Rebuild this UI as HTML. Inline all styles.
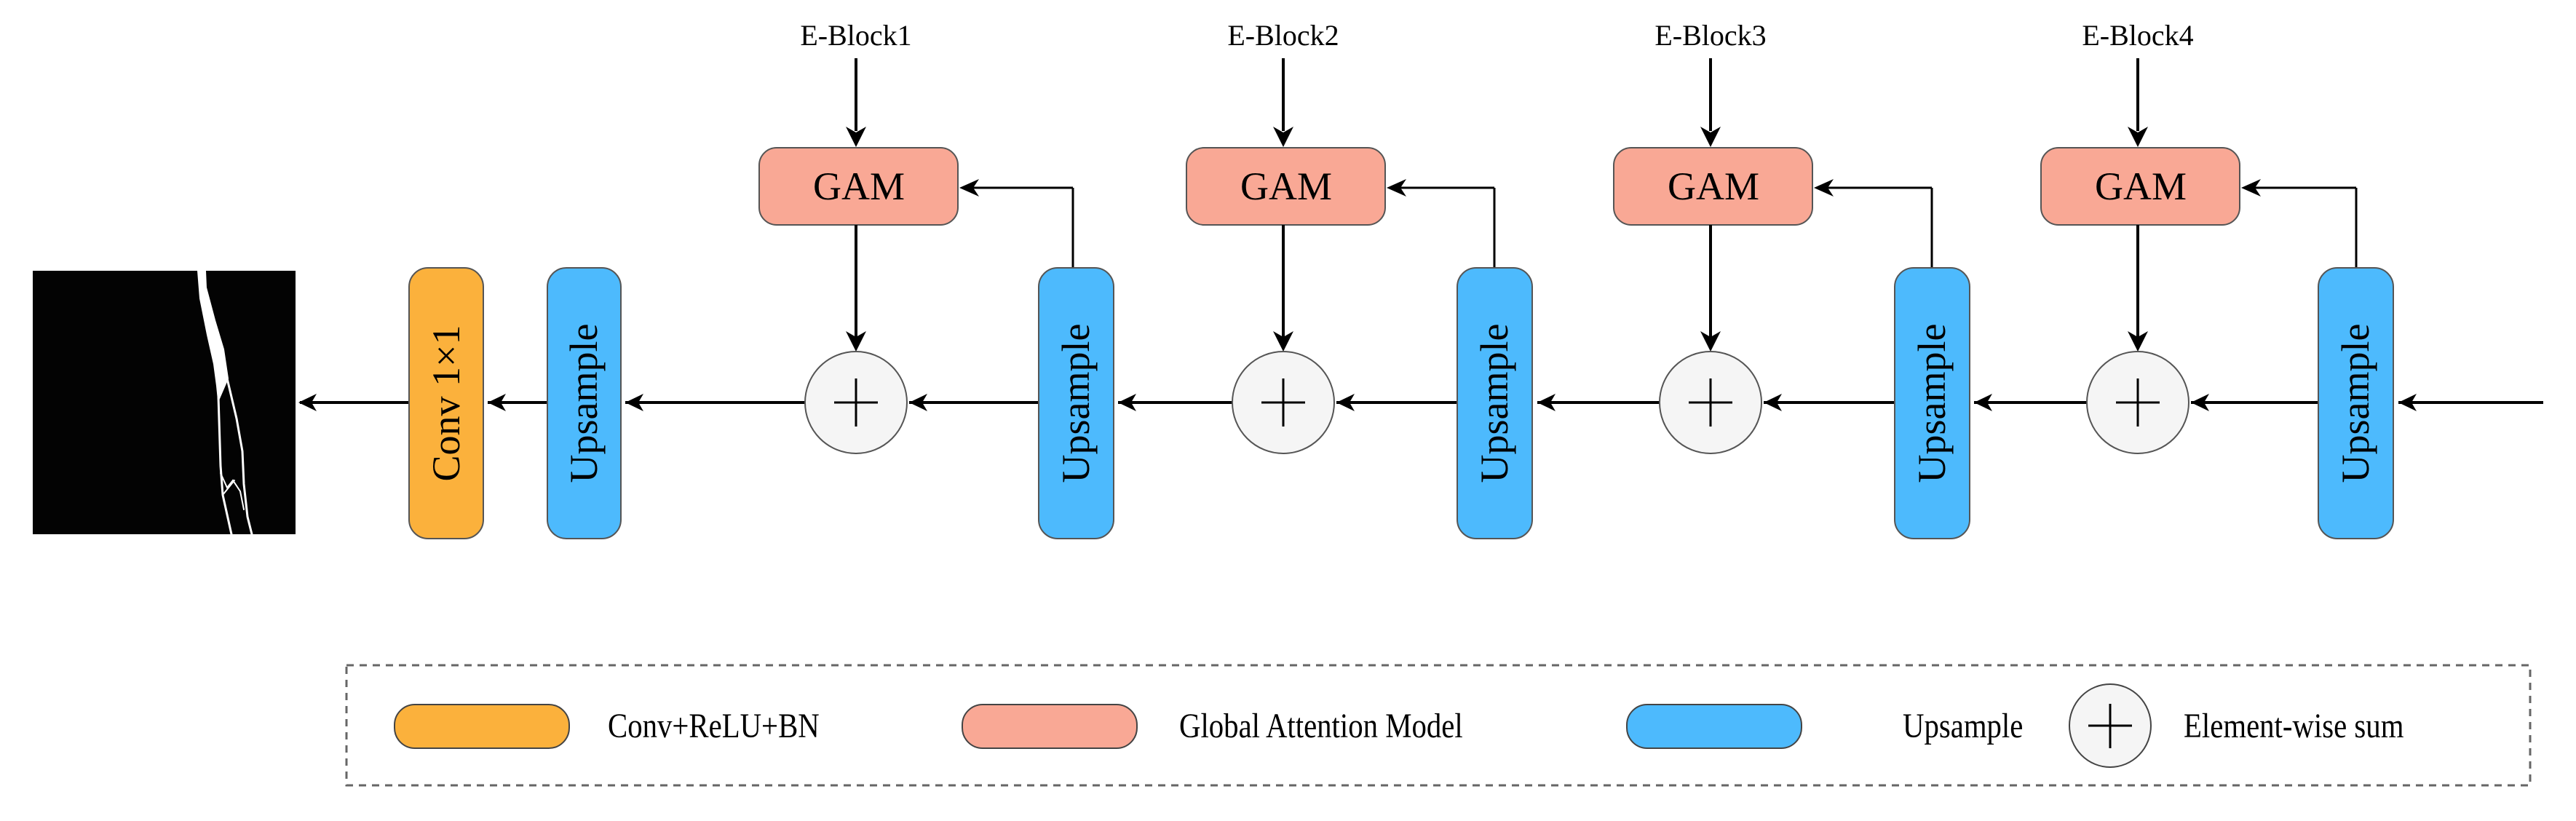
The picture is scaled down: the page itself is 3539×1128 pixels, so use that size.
<!DOCTYPE html>
<html><head><meta charset="utf-8"><style>
html,body{margin:0;padding:0;background:#fff;width:3539px;height:1128px;overflow:hidden}
text{font-family:"Liberation Serif","Times New Roman",serif;fill:#000}
</style></head><body>
<svg width="3539" height="1128" viewBox="0 0 3539 1128" xmlns="http://www.w3.org/2000/svg" font-family="Liberation Serif, serif">
<!-- crack image -->
<rect x="45" y="372" width="361" height="362" fill="#030303"/>
<g fill="none" stroke="#fff" stroke-linecap="round">
<path d="M272 372 L282 372 L283 395 L295 440 L307 480 L313 520 L300 550 L298 530 L294 500 L285 460 L275 410 Z" fill="#fff" stroke-width="2"/>
<path d="M300 545 L303 640 L306 680 L318 734" stroke-width="3"/>
<path d="M312 520 L325 575 L333 620 L335 665 L340 710 L346 734" stroke-width="3"/>
<path d="M303 650 L312 670 L320 660 L330 675 L335 700" stroke-width="2"/>
<path d="M306 680 L322 660" stroke-width="2"/>
</g>
<g stroke="#000" stroke-width="4" fill="none">
<line x1="3494" y1="553" x2="3295" y2="553"/>
<line x1="3185" y1="553" x2="3010" y2="553"/>
<line x1="2867" y1="553" x2="2712" y2="553"/>
<line x1="2603" y1="553" x2="2423" y2="553"/>
<line x1="2280" y1="553" x2="2112" y2="553"/>
<line x1="2002" y1="553" x2="1836" y2="553"/>
<line x1="1693" y1="553" x2="1536" y2="553"/>
<line x1="1427" y1="553" x2="1249" y2="553"/>
<line x1="1106" y1="553" x2="859" y2="553"/>
<line x1="752" y1="553" x2="670" y2="553"/>
<line x1="562" y1="553" x2="412" y2="553"/>
</g>
<g fill="#000">
<polygon points="3295,553 3320,541 3313,553 3320,565"/>
<polygon points="3010,553 3035,541 3028,553 3035,565"/>
<polygon points="2712,553 2737,541 2730,553 2737,565"/>
<polygon points="2423,553 2448,541 2441,553 2448,565"/>
<polygon points="2112,553 2137,541 2130,553 2137,565"/>
<polygon points="1836,553 1861,541 1854,553 1861,565"/>
<polygon points="1536,553 1561,541 1554,553 1561,565"/>
<polygon points="1249,553 1274,541 1267,553 1274,565"/>
<polygon points="859,553 884,541 877,553 884,565"/>
<polygon points="670,553 695,541 688,553 695,565"/>
<polygon points="410,553 435,541 428,553 435,565"/>
</g>
<rect x="562" y="368" width="102" height="372" rx="26" fill="#FBB13C" stroke="#555" stroke-width="2"/>
<text transform="translate(631,554) rotate(-90)" font-size="54" text-anchor="middle">Conv 1×1</text>
<rect x="752" y="368" width="101" height="372" rx="26" fill="#4DBAFD" stroke="#555" stroke-width="2"/>
<text transform="translate(820,554) rotate(-90)" font-size="54" text-anchor="middle">Upsample</text>

<!-- Stage 1 -->
<g>
<text x="1176" y="62" font-size="40" text-anchor="middle">E-Block1</text>
<line x1="1176" y1="80" x2="1176" y2="180" stroke="#000" stroke-width="4"/>
<polygon points="1176,202 1162,174 1176,182 1190,174" fill="#000"/>
<rect x="1043" y="203" width="273" height="106" rx="24" fill="#F9A895" stroke="#555" stroke-width="2"/>
<text x="1180" y="274" font-size="54" text-anchor="middle">GAM</text>
<line x1="1176" y1="309" x2="1176" y2="470" stroke="#000" stroke-width="4"/>
<polygon points="1176,483 1162,455 1176,463 1190,455" fill="#000"/>
<ellipse cx="1176" cy="553" rx="70" ry="70" fill="#F5F5F5" stroke="#555" stroke-width="2"/>
<line x1="1146" y1="553" x2="1206" y2="553" stroke="#000" stroke-width="3"/><line x1="1176" y1="520" x2="1176" y2="586" stroke="#000" stroke-width="3"/>
<line x1="1474" y1="368" x2="1474" y2="258" stroke="#000" stroke-width="3"/>
<line x1="1474" y1="258" x2="1330" y2="258" stroke="#000" stroke-width="3"/>
<polygon points="1318,258 1345,246 1337,258 1345,270" fill="#000"/>
<rect x="1427" y="368" width="103" height="372" rx="26" fill="#4DBAFD" stroke="#555" stroke-width="2"/>
<text transform="translate(1496,554) rotate(-90)" font-size="54" text-anchor="middle">Upsample</text>
</g>
<g transform="translate(587,0)">
<text x="1176" y="62" font-size="40" text-anchor="middle">E-Block2</text>
<line x1="1176" y1="80" x2="1176" y2="180" stroke="#000" stroke-width="4"/>
<polygon points="1176,202 1162,174 1176,182 1190,174" fill="#000"/>
<rect x="1043" y="203" width="273" height="106" rx="24" fill="#F9A895" stroke="#555" stroke-width="2"/>
<text x="1180" y="274" font-size="54" text-anchor="middle">GAM</text>
<line x1="1176" y1="309" x2="1176" y2="470" stroke="#000" stroke-width="4"/>
<polygon points="1176,483 1162,455 1176,463 1190,455" fill="#000"/>
<ellipse cx="1176" cy="553" rx="70" ry="70" fill="#F5F5F5" stroke="#555" stroke-width="2"/>
<line x1="1146" y1="553" x2="1206" y2="553" stroke="#000" stroke-width="3"/><line x1="1176" y1="520" x2="1176" y2="586" stroke="#000" stroke-width="3"/>
<line x1="1466" y1="368" x2="1466" y2="258" stroke="#000" stroke-width="3"/>
<line x1="1466" y1="258" x2="1330" y2="258" stroke="#000" stroke-width="3"/>
<polygon points="1318,258 1345,246 1337,258 1345,270" fill="#000"/>
<rect x="1415" y="368" width="103" height="372" rx="26" fill="#4DBAFD" stroke="#555" stroke-width="2"/>
<text transform="translate(1484,554) rotate(-90)" font-size="54" text-anchor="middle">Upsample</text>
</g>
<g transform="translate(1174,0)">
<text x="1176" y="62" font-size="40" text-anchor="middle">E-Block3</text>
<line x1="1176" y1="80" x2="1176" y2="180" stroke="#000" stroke-width="4"/>
<polygon points="1176,202 1162,174 1176,182 1190,174" fill="#000"/>
<rect x="1043" y="203" width="273" height="106" rx="24" fill="#F9A895" stroke="#555" stroke-width="2"/>
<text x="1180" y="274" font-size="54" text-anchor="middle">GAM</text>
<line x1="1176" y1="309" x2="1176" y2="470" stroke="#000" stroke-width="4"/>
<polygon points="1176,483 1162,455 1176,463 1190,455" fill="#000"/>
<ellipse cx="1176" cy="553" rx="70" ry="70" fill="#F5F5F5" stroke="#555" stroke-width="2"/>
<line x1="1146" y1="553" x2="1206" y2="553" stroke="#000" stroke-width="3"/><line x1="1176" y1="520" x2="1176" y2="586" stroke="#000" stroke-width="3"/>
<line x1="1480" y1="368" x2="1480" y2="258" stroke="#000" stroke-width="3"/>
<line x1="1480" y1="258" x2="1330" y2="258" stroke="#000" stroke-width="3"/>
<polygon points="1318,258 1345,246 1337,258 1345,270" fill="#000"/>
<rect x="1429" y="368" width="103" height="372" rx="26" fill="#4DBAFD" stroke="#555" stroke-width="2"/>
<text transform="translate(1498,554) rotate(-90)" font-size="54" text-anchor="middle">Upsample</text>
</g>
<g transform="translate(1761,0)">
<text x="1176" y="62" font-size="40" text-anchor="middle">E-Block4</text>
<line x1="1176" y1="80" x2="1176" y2="180" stroke="#000" stroke-width="4"/>
<polygon points="1176,202 1162,174 1176,182 1190,174" fill="#000"/>
<rect x="1043" y="203" width="273" height="106" rx="24" fill="#F9A895" stroke="#555" stroke-width="2"/>
<text x="1180" y="274" font-size="54" text-anchor="middle">GAM</text>
<line x1="1176" y1="309" x2="1176" y2="470" stroke="#000" stroke-width="4"/>
<polygon points="1176,483 1162,455 1176,463 1190,455" fill="#000"/>
<ellipse cx="1176" cy="553" rx="70" ry="70" fill="#F5F5F5" stroke="#555" stroke-width="2"/>
<line x1="1146" y1="553" x2="1206" y2="553" stroke="#000" stroke-width="3"/><line x1="1176" y1="520" x2="1176" y2="586" stroke="#000" stroke-width="3"/>
<line x1="1476" y1="368" x2="1476" y2="258" stroke="#000" stroke-width="3"/>
<line x1="1476" y1="258" x2="1330" y2="258" stroke="#000" stroke-width="3"/>
<polygon points="1318,258 1345,246 1337,258 1345,270" fill="#000"/>
<rect x="1424" y="368" width="103" height="372" rx="26" fill="#4DBAFD" stroke="#555" stroke-width="2"/>
<text transform="translate(1493,554) rotate(-90)" font-size="54" text-anchor="middle">Upsample</text>
</g>
<!-- Legend -->
<rect x="476" y="914" width="3000" height="165" fill="none" stroke="#666" stroke-width="3" stroke-dasharray="10,8"/>
<rect x="542" y="968" width="240" height="60" rx="28" fill="#FBB13C" stroke="#444" stroke-width="2"/>
<text x="835" y="1013" font-size="48" transform="translate(835,0) scale(0.85,1) translate(-835,0)">Conv+ReLU+BN</text>
<rect x="1322" y="968" width="240" height="60" rx="28" fill="#F9A895" stroke="#444" stroke-width="2"/>
<text x="1620" y="1013" font-size="48" transform="translate(1620,0) scale(0.85,1) translate(-1620,0)">Global Attention Model</text>
<rect x="2235" y="968" width="240" height="60" rx="28" fill="#4DBAFD" stroke="#444" stroke-width="2"/>
<text x="2614" y="1013" font-size="48" transform="translate(2614,0) scale(0.85,1) translate(-2614,0)">Upsample</text>
<ellipse cx="2899" cy="997" rx="56" ry="57" fill="#F5F5F5" stroke="#444" stroke-width="2"/>
<line x1="2869" y1="997" x2="2929" y2="997" stroke="#000" stroke-width="3"/><line x1="2899" y1="967" x2="2899" y2="1028" stroke="#000" stroke-width="3"/>
<text x="3000" y="1013" font-size="48" transform="translate(3000,0) scale(0.85,1) translate(-3000,0)">Element-wise sum</text>
</svg>
</body></html>
